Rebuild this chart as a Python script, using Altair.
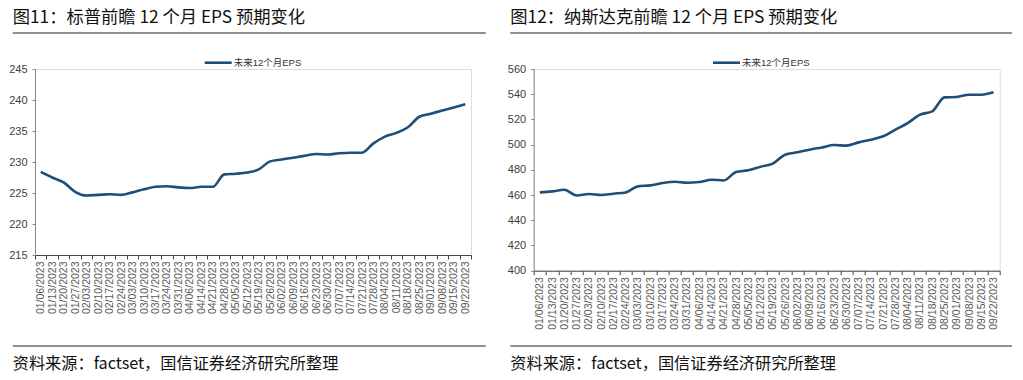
import altair as alt
import pandas as pd

dates = ["01/06/2023", "01/13/2023", "01/20/2023", "01/27/2023", "02/03/2023", "02/10/2023",
         "02/17/2023", "02/24/2023", "03/03/2023", "03/10/2023", "03/17/2023", "03/24/2023",
         "03/31/2023", "04/06/2023", "04/14/2023", "04/21/2023", "04/28/2023", "05/05/2023",
         "05/12/2023", "05/19/2023", "05/26/2023", "06/02/2023", "06/09/2023", "06/16/2023",
         "06/23/2023", "06/30/2023", "07/07/2023", "07/14/2023", "07/21/2023", "07/28/2023",
         "08/04/2023", "08/11/2023", "08/18/2023", "08/25/2023", "09/01/2023", "09/08/2023",
         "09/15/2023", "09/22/2023"]

spx_eps = [228.4, 227.5, 226.7, 225.2, 224.6, 224.7, 224.8, 224.7, 225.1, 225.6,
           226.0, 226.1, 225.9, 225.8, 226.0, 226.0, 228.0, 228.1, 228.3, 228.8,
           230.1, 230.4, 230.7, 231.0, 231.3, 231.2, 231.4, 231.5, 231.5, 233.0,
           234.1, 234.7, 235.6, 237.3, 237.8, 238.3, 238.8, 239.3]

ndx_eps = [462.1, 462.9, 464.2, 459.7, 460.8, 460.0, 461.1, 462.1, 466.9, 467.7,
           469.5, 470.6, 469.8, 470.3, 472.2, 471.6, 478.3, 479.6, 482.5, 484.9,
           492.0, 493.9, 496.0, 497.8, 499.7, 499.2, 501.8, 503.9, 506.6, 511.9,
           517.1, 523.8, 526.4, 537.5, 537.8, 539.6, 539.6, 541.5]

series_name = "未来12个月EPS"
titles = ["图11：标普前瞻 12 个月 EPS 预期变化", "图12：纳斯达克前瞻 12 个月 EPS 预期变化"]
source_text = "资料来源：factset，国信证券经济研究所整理"
spx_ticks = [215, 220, 225, 230, 235, 240, 245]
ndx_ticks = [400, 420, 440, 460, 480, 500, 520, 540, 560]

LINE_COLOR = "#1f4e79"
CJK = "Noto Sans CJK SC"
AXF = "Liberation Sans, Noto Sans CJK SC"

one = pd.DataFrame({"k": [0]})


def panel(values, ticks, title, w, h, left_off, right_ext, legend_x):
    df = pd.DataFrame({"date": dates, "eps": values})
    line = alt.Chart(df).mark_line(
        color=LINE_COLOR, strokeWidth=2.6, interpolate="monotone"
    ).encode(
        x=alt.X("date:O", sort=dates, title=None,
                scale=alt.Scale(paddingInner=0, paddingOuter=0),
                axis=alt.Axis(labelAngle=270, labelFont="Liberation Sans", labelFontSize=10.5,
                              labelColor="#595959", tickBand="extent", tickSize=4,
                              tickColor="#444444", domainColor="#444444", labelPadding=2,
                              labelOverlap=False)),
        y=alt.Y("eps:Q", title=None,
                scale=alt.Scale(domain=[ticks[0], ticks[-1]], nice=False, zero=False),
                axis=alt.Axis(values=ticks, grid=False, labelFont="Liberation Sans",
                              labelFontSize=11, labelColor="#404040", tickSize=3,
                              tickColor="#888888", domainColor="#888888", labelPadding=5)),
    )
    ttl = alt.Chart(one).mark_text(
        align="left", baseline="middle", font=CJK, fontSize=17.3, color="#111111"
    ).encode(x=alt.value(left_off), y=alt.value(-51), text=alt.value(title))
    rule_top = alt.Chart(one).mark_rule(color="#222222", strokeWidth=1.2).encode(
        x=alt.value(left_off), x2=alt.value(right_ext), y=alt.value(-36))
    rule_bot = alt.Chart(one).mark_rule(color="#222222", strokeWidth=1.2).encode(
        x=alt.value(left_off), x2=alt.value(right_ext), y=alt.value(277))
    src = alt.Chart(one).mark_text(
        align="left", baseline="middle", font=CJK, fontSize=16.2, color="#111111"
    ).encode(x=alt.value(left_off), y=alt.value(294.5), text=alt.value(source_text))
    leg_line = alt.Chart(one).mark_rule(color=LINE_COLOR, strokeWidth=2.6).encode(
        x=alt.value(legend_x), x2=alt.value(legend_x + 27), y=alt.value(-6.3))
    leg_text = alt.Chart(one).mark_text(
        align="left", baseline="middle", font=AXF, fontSize=9.5, color="#333333"
    ).encode(x=alt.value(legend_x + 29), y=alt.value(-6.3), text=alt.value(series_name))
    return alt.layer(line, ttl, rule_top, rule_bot, src, leg_line, leg_text).properties(
        width=w, height=h)


left = panel(spx_eps, spx_ticks, titles[0], 436, 186, -22.3, 450.7, 169.7)
right = panel(ndx_eps, ndx_ticks, titles[1], 466, 201.7, -23.4, 478.3, 179.3)

chart = alt.hconcat(left, right, spacing=62.7, bounds="flush").properties(
    padding={"left": 0, "top": 0, "right": 0, "bottom": 0}
).configure_view(stroke=None).configure(background="white")

chart.save("out.html", embed_options={"renderer": "svg", "actions": False})
